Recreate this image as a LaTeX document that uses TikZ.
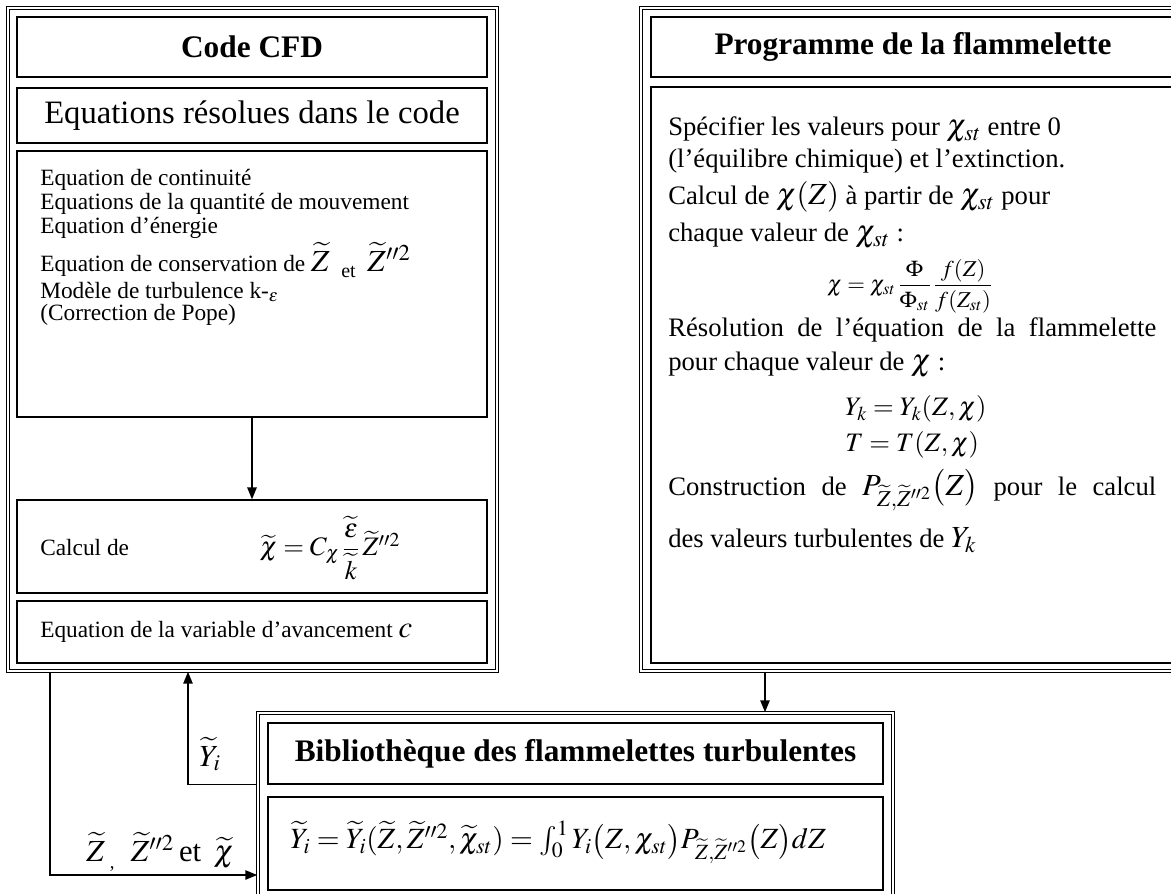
\documentclass[tikz,border=0pt]{standalone}
\usepackage{amsmath}
\usepackage{mathptmx}
\usepackage[no-math]{fontspec}
\setmainfont{Liberation Serif}
\usetikzlibrary{arrows.meta,positioning,fit,calc}

\newcommand{\bodyL}{\fontsize{17.5}{20}\selectfont}
\newcommand{\bodyR}{\fontsize{20}{23}\selectfont}
\newcommand{\headfont}{\fontsize{23.5}{27}\selectfont}
\newcommand{\bigmath}{\fontsize{23}{26}\selectfont}
\newcommand{\tZ}{\widetilde{Z}}

\begin{document}
\begin{tikzpicture}[x=0.75pt, y=-0.75pt]
  % Styles
  \tikzset{
    frame/.style={draw, double, double distance=1.3pt, line width=1.1pt, inner sep=0pt},
    subbox/.style={draw, line width=0.9pt, inner sep=0pt},
    title/.style={font=\headfont\bfseries, inner sep=0pt},
    head/.style={font=\fontsize{24.5}{28}\selectfont, inner sep=0pt},
    ltxt/.style={anchor=west, inner sep=0pt, font=\bodyL},
    rtxt/.style={anchor=west, inner sep=0pt, font=\bodyR},
    link/.style={-{Triangle[length=9pt, width=7pt]}, line width=1.3pt},
  }
  \useasboundingbox (0,0) rectangle (1171,893);

  % Code CFD
  \node[frame, fit={(8,8) (497,671)}] (cfd) {};
  \node[subbox, fit={(17,17) (487,77)}] (cfdtitle) {};
  \node[subbox, fit={(17,88) (487,143)}] (solved) {};
  \node[subbox, fit={(17,151) (487,417)}] (eqs) {};
  \node[subbox, fit={(17,500) (487,593)}] (chicalc) {};
  \node[subbox, fit={(17,601) (487,663)}] (progress) {};

  \node[title] (cfdname) at (cfdtitle) {Code CFD};
  \node[head] (solvedname) at (solved) {Equations résolues dans le code};

  \node[ltxt] (eq1) at (40,180) {Equation de continuité};
  \node[ltxt] (eq2) at (40,204) {Equations de la quantité de mouvement};
  \node[ltxt] (eq3) at (40,228) {Equation d’énergie};
  \node[ltxt] (eq4) at (40,260) {Equation de conservation de {\bigmath$\tZ$}\enspace\raisebox{-4pt}{\fontsize{15}{17}\selectfont et}\enspace{\bigmath$\tZ''^{2}$}};
  \node[ltxt] (eq5) at (40,292) {Modèle de turbulence k-$_{\varepsilon}$};
  \node[ltxt] (eq6) at (40,315) {(Correction de Pope)};

  \node[ltxt] (calclab) at (40,548) {Calcul de};
  \node[font=\fontsize{20}{23}\selectfont, inner sep=0pt] (chiform) at (330,548) {$\widetilde{\chi} = C_{\chi}\,\dfrac{\widetilde{\varepsilon}}{\widetilde{k}}\,\tZ''^{2}$};
  \node[ltxt] (avanc) at (40,632) {Equation de la variable d’avancement {\bigmath$c$}};

  % Programme de la flammelette
  \node[frame, fit={(641,8) (1200,671)}] (prog) {};
  \node[subbox, fit={(651,17) (1190,77)}] (progtitle) {};
  \node[subbox, fit={(651,87) (1190,663)}] (progbody) {};
  \node[title] (progname) at (913,47) {Programme de la flammelette};

  \node[rtxt] (r1) at (668,130) {Spécifier les valeurs pour {\bigmath$\chi_{st}$} entre 0};
  \node[rtxt] (r2) at (668,161) {(l’équilibre chimique) et l’extinction.};
  \node[rtxt] (r3) at (668,197) {Calcul de {\bigmath$\chi(Z)$} à partir de {\bigmath$\chi_{st}$} pour};
  \node[rtxt] (r4) at (668,236) {chaque valeur de {\bigmath$\chi_{st}$} :};
  \node[inner sep=0pt, font=\fontsize{17}{19}\selectfont] (phiform) at (910,286) {$\chi = \chi_{st}\,\dfrac{\Phi}{\Phi_{st}}\,\dfrac{f(Z)}{f(Z_{st})}$};
  \node[rtxt] (r6) at (668,330) {\makebox[366pt][s]{Résolution de l’équation de la flammelette}};
  \node[rtxt] (r7) at (668,365) {pour chaque valeur de {\bigmath$\chi$} :};
  \node[rtxt] (r8) at (845,409) {$Y_k = Y_k(Z,\chi)$};
  \node[rtxt] (r9) at (845,445) {$T = T(Z,\chi)$};
  \node[rtxt] (r10) at (668,490) {\makebox[366pt][s]{Construction de {\bigmath$P_{\tZ,\tZ''^{2}}\bigl(Z\bigr)$} pour le calcul}};
  \node[rtxt] (r11) at (668,540) {des valeurs turbulentes de {\bigmath$Y_k$}};

  % Bibliotheque
  \node[frame, fit={(258,713) (893,910)}] (lib) {};
  \node[subbox, fit={(268,723) (883,784)}] (libtitle) {};
  \node[subbox, fit={(268,797) (883,890)}] (libeq) {};
  \node[title] (libname) at (libtitle) {Bibliothèque des flammelettes turbulentes};
  \node[anchor=west, inner sep=0pt, font=\fontsize{22}{25}\selectfont] (libform) at (290,842) {$\widetilde{Y}_i = \widetilde{Y}_i(\tZ,\tZ''^{2},\widetilde{\chi}_{st}) = \int_0^1 Y_i\bigl(Z,\chi_{st}\bigr)P_{\tZ,\tZ''^{2}}\bigl(Z\bigr)dZ$};

  % Links
  \coordinate (drop) at (765,0);
  \coordinate (yiup) at (188,0);
  \coordinate (zdown) at (50,875);
  \draw[link] (eqs.south) -- (chicalc.north);
  \draw[link] (prog.south -| drop) -- (lib.north -| drop);
  \draw[link] (libtitle.south -| lib.west) -| (cfd.south -| yiup);
  \draw[link] (cfd.south -| zdown) |- (lib.west |- zdown);

  \node[font=\bigmath, inner sep=0pt] (yilab) at (210,754) {$\widetilde{Y}_i$};
  \node[anchor=west, font=\bigmath, inner sep=0pt] (zlab) at (86,852) {$\tZ$\,\raisebox{-5pt}{\fontsize{14}{16}\selectfont,}\; $\tZ''^{2}$\,et\, $\widetilde{\chi}$};
\end{tikzpicture}
\end{document}
